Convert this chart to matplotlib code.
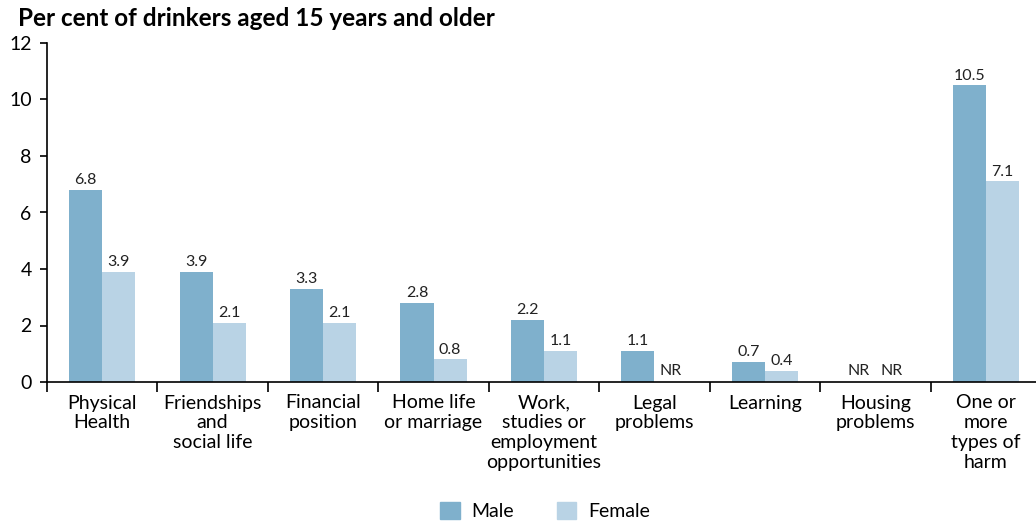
import matplotlib.pyplot as plt
from matplotlib.patches import Patch
import numpy as np

plt.rcParams['font.family'] = ['Lato', 'DejaVu Sans']

categories = ['Physical\nHealth', 'Friendships\nand\nsocial life', 'Financial\nposition',
              'Home life\nor marriage', 'Work,\nstudies or\nemployment\nopportunities',
              'Legal\nproblems', 'Learning', 'Housing\nproblems', 'One or\nmore\ntypes of\nharm']
male = [6.8, 3.9, 3.3, 2.8, 2.2, 1.1, 0.7, None, 10.5]
female = [3.9, 2.1, 2.1, 0.8, 1.1, None, 0.4, None, 7.1]

male_col = '#7fb0cc'
female_col = '#b9d3e5'

fig = plt.figure(figsize=(10.36, 5.23), dpi=100)
ax = fig.add_axes([47 / 1036, 141 / 523, 994 / 1036, 339 / 523])

x = np.arange(len(categories))
w = 0.30

def draw(vals, offset, col):
    for xi, v in zip(x, vals):
        if v is None:
            ax.text(xi + offset, 0.15, 'NR', ha='center', va='bottom', fontsize=11.5, color='#222222')
        else:
            ax.bar(xi + offset, v, w, color=col)
            ax.text(xi + offset, v + 0.1, f'{v:.1f}', ha='center', va='bottom', fontsize=11.5, color='#222222')

draw(male, -w / 2, male_col)
draw(female, w / 2, female_col)

ax.set_xlim(-0.5, 8.5)
ax.set_ylim(0, 12)
ax.set_yticks(range(0, 13, 2))
ax.tick_params(axis='y', labelsize=14, length=5, width=1.2, direction='out', pad=6)

# category boundaries as ticks, names centred between them
ax.set_xticks(np.arange(-0.5, 9.0, 1.0))
ax.set_xticklabels([])
ax.set_xticks(x, minor=True)
ax.set_xticklabels(categories, minor=True, fontsize=14, linespacing=1.2)
ax.tick_params(axis='x', which='major', length=7, width=1.2, direction='out')
ax.tick_params(axis='x', which='minor', length=0, pad=9)

for s in ['top', 'right']:
    ax.spines[s].set_visible(False)
for s in ['left', 'bottom']:
    ax.spines[s].set_linewidth(1.2)

fig.text(18 / 1036, 1 - 18 / 523, 'Per cent of drinkers aged 15 years and older',
         fontsize=17.5, fontweight='bold', va='center', ha='left')

handles = [Patch(color=male_col, label='Male'), Patch(color=female_col, label='Female')]
fig.legend(handles=handles, loc='center', bbox_to_anchor=(545 / 1036, 1 - 511 / 523), ncol=2,
           frameon=False, fontsize=14, handlelength=1.0, handleheight=1.0,
           columnspacing=2.2, handletextpad=0.6)

fig.savefig('out.png', dpi=100)
